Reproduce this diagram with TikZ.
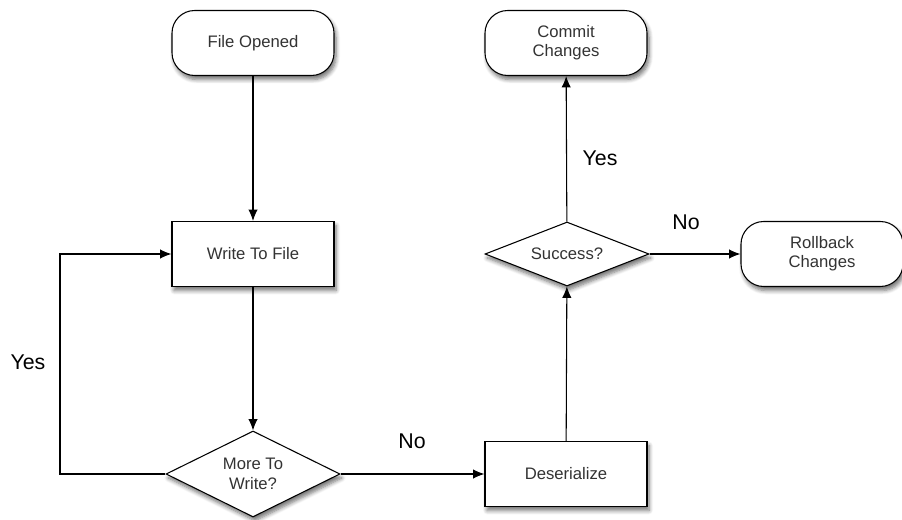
\documentclass[tikz,border=0pt]{standalone}
\usepackage{fontspec}
\setmainfont{Liberation Sans}
\usetikzlibrary{
    arrows.meta,
    shapes.geometric,
    shadows.blur
}

\begin{document}
\begin{tikzpicture}[->,>={Latex[length=8.5pt,width=7pt]},x=0.75pt,y=-0.75pt,line width=0.8pt]
    \tikzstyle{every node}=[font=\fontsize{12.5}{14.5}\selectfont, text=black!80]
    \tikzstyle{shade}=[blur shadow={shadow xshift=1.5pt, shadow yshift=-3pt, shadow blur steps=6, shadow blur radius=3pt, shadow opacity=55}]
    \tikzstyle{pill}=[draw, fill=white, rounded corners=17pt, minimum width=121.5pt, minimum height=48.75pt, align=center, shade]
    \tikzstyle{box}=[draw, fill=white, minimum width=121.5pt, minimum height=48.75pt, align=center, shade]
    \tikzstyle{choice}=[draw, fill=white, diamond, inner sep=0pt, align=center, shade]
    \tikzstyle{answer}=[font=\fontsize{16}{18}\selectfont, text=black]
    \useasboundingbox (0,0) rectangle (902,520);
	\node [pill] (opened) at (253, 43) {File Opened};
	\node [box] (write) at (253, 254) {Write To File};
	\node [choice, aspect=2, minimum width=130.5pt, minimum height=64.5pt] (more) at (253, 474) {More To\\ Write?};
	\node [box] (deser) at (566, 474) {Deserialize};
	\node [choice, aspect=2.6, minimum width=123pt, minimum height=48pt] (success) at (567, 254) {Success?};
	\node [pill] (commit) at (566, 43) {Commit\\ Changes};
	\node [pill] (rollback) at (822, 254) {Rollback\\ Changes};
	\coordinate (loop) at (60, 474);
	\draw (opened) -- (write);
	\draw (write) -- (more);
	\draw (more.east) -- (deser.west);
	\draw (deser) -- (success);
	\draw (success) -- (commit);
	\draw (success.east) -- (rollback.west);
	\draw (more.west) -- (loop) |- (write.west);

	\node [answer] (yesloop) at (28, 362) {Yes};
	\node [answer] (nomore) at (412, 441) {No};
	\node [answer] (yescommit) at (600, 158) {Yes};
	\node [answer] (noback) at (686, 222) {No};
\end{tikzpicture}
\end{document}
